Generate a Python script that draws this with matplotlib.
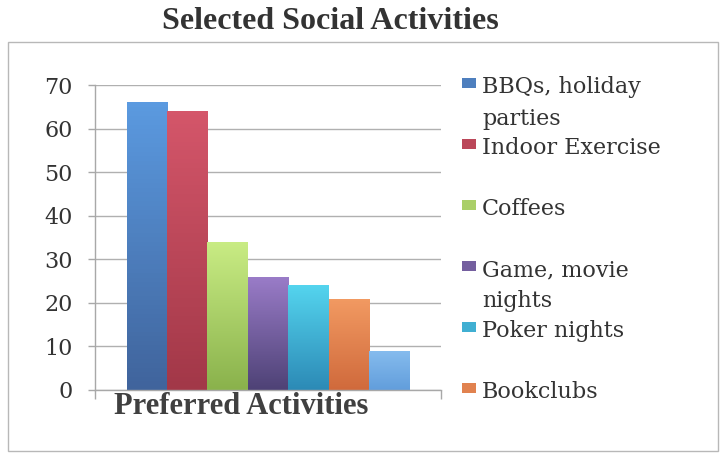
import numpy as np
import matplotlib
matplotlib.use("Agg")
import matplotlib.pyplot as plt
from matplotlib.colors import to_rgb
from matplotlib.patches import Rectangle

# survey data: one category, one bar per activity
activities = ["BBQs, holiday\nparties", "Indoor Exercise", "Coffees",
              "Game, movie\nnights", "Poker nights", "Bookclubs", "Other"]
counts = [66, 64, 34, 26, 24, 21, 9]
yticks = [0, 10, 20, 30, 40, 50, 60, 70]

# gradient colours (top, bottom) per bar
tops = ["#5b9ae0", "#d4566a", "#c9ec84", "#9a7cc8", "#54d4ee", "#f29a62", "#86bcee"]
bottoms = ["#40649c", "#a23848", "#8ab24c", "#4e4276", "#2c8ab6", "#d06a3c", "#629edc"]

W, H = 721, 454
fig = plt.figure(figsize=(W / 100, H / 100), dpi=100)

# outer chart border
fig.patches.append(Rectangle((8 / W, 1 - 451 / H), 710 / W, 409 / H,
                             transform=fig.transFigure, fill=False,
                             edgecolor="#b8b8b8", linewidth=1))

ax = fig.add_axes([95 / W, 1 - 390 / H, 346 / W, 305 / H])

n = len(counts)
xs = np.arange(n) - (n - 1) / 2
bars = ax.bar(xs, counts, width=1.0, color=tops, zorder=2, linewidth=0)

# vertical gradient inside each bar
for b, top, bot in zip(bars, tops, bottoms):
    c0, c1 = np.array(to_rgb(bot)), np.array(to_rgb(top))
    t = np.linspace(0, 1, 64)[:, None, None]
    grad = c0 * (1 - t) + c1 * t
    x0 = b.get_x()
    im = ax.imshow(grad, extent=[x0, x0 + b.get_width(), 0, b.get_height()],
                   origin="lower", aspect="auto", zorder=2.5)
    im.set_clip_path(b)

ax.set_xlim(-4.28, 4.28)
ax.set_ylim(0, 70)
ax.set_yticks(yticks)
ax.set_yticklabels([str(v) for v in yticks], family="DejaVu Serif",
                   fontsize=16, color="#333333")
ax.set_xticks([-4.28, 4.28])
ax.set_xticklabels([])
ax.tick_params(axis="y", length=5, width=1, color="#a8a8a8", pad=11)
ax.tick_params(axis="x", length=6.5, width=1, color="#a8a8a8")
ax.grid(axis="y", color="#b0b0b0", linewidth=1, zorder=0)
for s in ["top", "right"]:
    ax.spines[s].set_visible(False)
for s in ["left", "bottom"]:
    ax.spines[s].set_color("#a8a8a8")
    ax.spines[s].set_linewidth(1)

fig.text(330 / W, 1 - 29 / H, "Selected Social Activities",
         family="Liberation Serif", fontweight="bold", fontsize=23,
         ha="center", va="baseline", color="#333333")

fig.text(114 / W, 1 - 414 / H, "Preferred Activities",
         family="Liberation Serif", fontweight="bold", fontsize=22,
         ha="left", va="baseline", color="#404040")

# legend: only room for six entries in the right-hand panel
for i in range(6):
    base = 93 + 61 * i
    mid = (np.array(to_rgb(tops[i])) + np.array(to_rgb(bottoms[i]))) / 2
    fig.patches.append(Rectangle((462 / W, 1 - (base - 5) / H), 14 / W, 10 / H,
                                 transform=fig.transFigure, facecolor=mid,
                                 edgecolor="none"))
    for j, line in enumerate(activities[i].split("\n")):
        fig.text(482 / W, 1 - (base + 31.5 * j) / H, line,
                 family="DejaVu Serif", fontsize=16, ha="left",
                 va="baseline", color="#333333")

fig.savefig("out.png", dpi=100)
